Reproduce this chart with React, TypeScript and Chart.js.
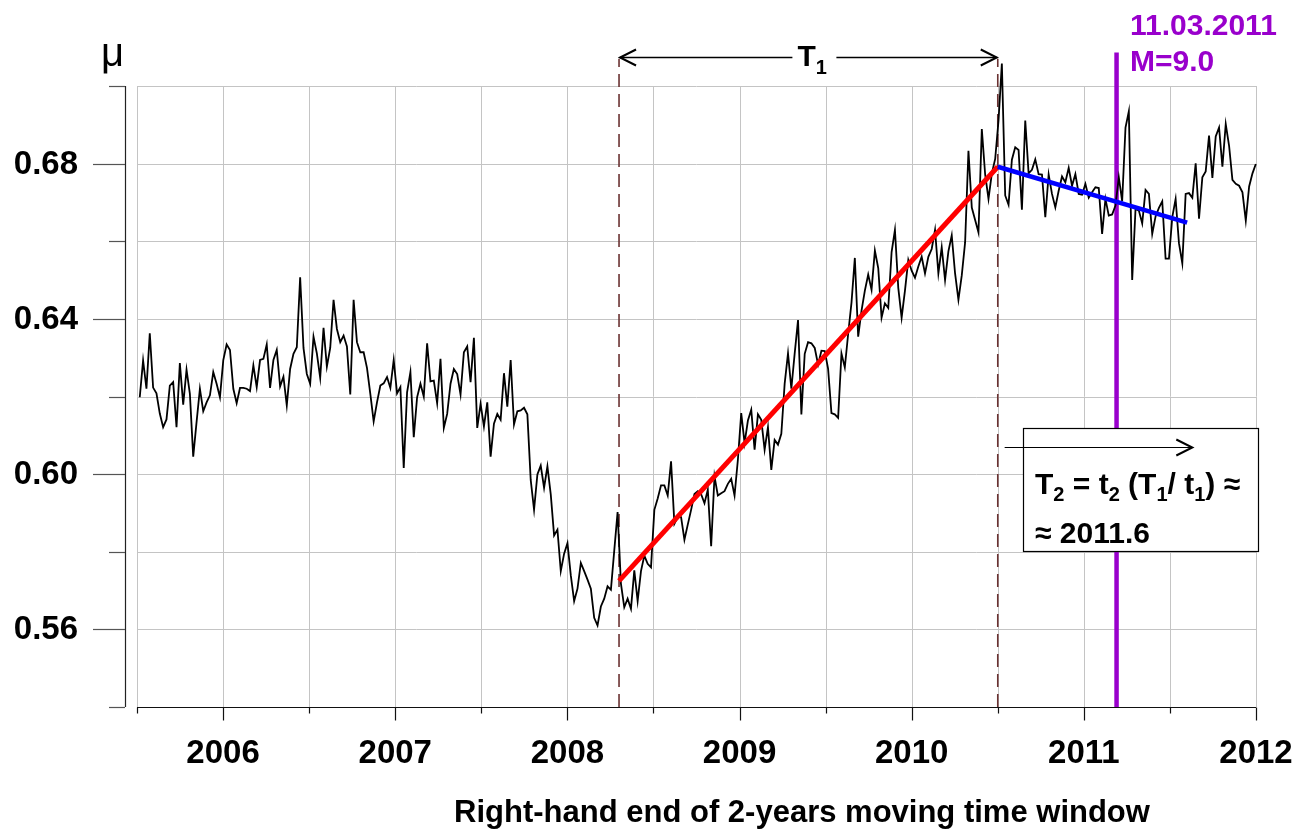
import React, { useEffect, useRef } from "react";
import { Chart, registerables } from "chart.js";

Chart.register(...registerables);

const FONT = '"Liberation Sans", Arial, Helvetica, sans-serif';

// Weekly values of μ (right-hand end of a 2-year moving window)
const muValues: number[] = [
  0.6198, 0.6293, 0.6220, 0.6363, 0.6223, 0.6208, 0.6156, 0.6121, 0.6141, 0.6228,
  0.6237, 0.6121, 0.6286, 0.6179, 0.6269, 0.6207, 0.6045, 0.6134, 0.6220, 0.6162,
  0.6185, 0.6203, 0.6263, 0.6233, 0.6198, 0.6294, 0.6334, 0.6320, 0.6220, 0.6183,
  0.6222, 0.6222, 0.6220, 0.6214, 0.6280, 0.6224, 0.6294, 0.6297, 0.6334, 0.6222,
  0.6294, 0.6320, 0.6226, 0.6251, 0.6177, 0.6271, 0.6310, 0.6327, 0.6507, 0.6325,
  0.6258, 0.6233, 0.6354, 0.6311, 0.6248, 0.6377, 0.6277, 0.6325, 0.6449, 0.6374,
  0.6340, 0.6357, 0.6329, 0.6205, 0.6449, 0.6340, 0.6314, 0.6314, 0.6274, 0.6207,
  0.6136, 0.6185, 0.6228, 0.6234, 0.6250, 0.6222, 0.6294, 0.6208, 0.6224, 0.6016,
  0.6211, 0.6263, 0.6095, 0.6198, 0.6233, 0.6200, 0.6337, 0.6239, 0.6241, 0.6183,
  0.6297, 0.6119, 0.6155, 0.6233, 0.6271, 0.6258, 0.6205, 0.6314, 0.6329, 0.6237,
  0.6351, 0.6119, 0.6181, 0.6123, 0.6185, 0.6045, 0.6130, 0.6155, 0.6140, 0.6260,
  0.6174, 0.6294, 0.6128, 0.6162, 0.6164, 0.6171, 0.6154, 0.5985, 0.5908, 0.5999,
  0.6022, 0.5965, 0.6020, 0.5948, 0.5842, 0.5857, 0.5750, 0.5795, 0.5822, 0.5739,
  0.5673, 0.5705, 0.5771, 0.5750, 0.5728, 0.5705, 0.5630, 0.5610, 0.5659, 0.5679,
  0.5711, 0.5702, 0.5803, 0.5902, 0.5718, 0.5657, 0.5679, 0.5653, 0.5752, 0.5673,
  0.5750, 0.5790, 0.5769, 0.5760, 0.5908, 0.5937, 0.5971, 0.5971, 0.5945, 0.6033,
  0.5872, 0.5889, 0.5889, 0.5831, 0.5870, 0.5908, 0.5949, 0.5956, 0.5948, 0.5925,
  0.5960, 0.5814, 0.5994, 0.5945, 0.5951, 0.5956, 0.5975, 0.5988, 0.5945, 0.6037,
  0.6157, 0.6080, 0.6138, 0.6166, 0.6063, 0.6154, 0.6140, 0.6063, 0.6121, 0.6011,
  0.6088, 0.6076, 0.6104, 0.6233, 0.6311, 0.6220, 0.6311, 0.6397, 0.6154, 0.6310,
  0.6340, 0.6337, 0.6325, 0.6282, 0.6318, 0.6317, 0.6271, 0.6157, 0.6154, 0.6145,
  0.6311, 0.6275, 0.6361, 0.6442, 0.6557, 0.6354, 0.6421, 0.6473, 0.6514, 0.6475,
  0.6576, 0.6531, 0.6403, 0.6440, 0.6428, 0.6572, 0.6629, 0.6480, 0.6403, 0.6473,
  0.6552, 0.6524, 0.6506, 0.6535, 0.6560, 0.6517, 0.6560, 0.6580, 0.6629, 0.6517,
  0.6584, 0.6500, 0.6574, 0.6615, 0.6517, 0.6449, 0.6512, 0.6597, 0.6833, 0.6687,
  0.6655, 0.6623, 0.6889, 0.6772, 0.6709, 0.6775, 0.6812, 0.6911, 0.7058, 0.6718,
  0.6694, 0.6810, 0.6842, 0.6835, 0.6681, 0.6911, 0.6775, 0.6784, 0.6811, 0.6773,
  0.6772, 0.6662, 0.6772, 0.6722, 0.6687, 0.6730, 0.6767, 0.6752, 0.6789, 0.6743,
  0.6773, 0.6722, 0.6720, 0.6748, 0.6712, 0.6726, 0.6739, 0.6737, 0.6619, 0.6709,
  0.6666, 0.6669, 0.6692, 0.6765, 0.6703, 0.6893, 0.6935, 0.6500, 0.6683, 0.6679,
  0.6646, 0.6732, 0.6722, 0.6619, 0.6664, 0.6686, 0.6703, 0.6555, 0.6555, 0.6662,
  0.6709, 0.6595, 0.6543, 0.6722, 0.6724, 0.6712, 0.6801, 0.6658, 0.6765, 0.6780,
  0.6872, 0.6763, 0.6870, 0.6893, 0.6792, 0.6902, 0.6846, 0.6758, 0.6748, 0.6743,
  0.6726, 0.6653, 0.6741, 0.6775, 0.6799,
];
const firstWeekYear = 2005.516;
const weekStepYears = 0.01941;

// Axes
const xMin = 2005.5;
const xMax = 2012;
const yMin = 0.54;
const yMax = 0.7;
const xYearTicks = [2006, 2007, 2008, 2009, 2010, 2011, 2012];
const xHalfTicks = [2005.5, 2006.5, 2007.5, 2008.5, 2009.5, 2010.5, 2011.5];
const yLabelTicks = [0.56, 0.6, 0.64, 0.68];
const yMinorTicks = [0.54, 0.58, 0.62, 0.66, 0.7];
const yGridValues = [0.56, 0.58, 0.6, 0.62, 0.64, 0.66, 0.68, 0.7];
const xGridValues = [2005.5, 2006, 2006.5, 2007, 2007.5, 2008, 2008.5, 2009, 2009.5, 2010, 2010.5, 2011, 2011.5, 2012];

// Trends and markers
const risingTrendX = [2008.3, 2010.5];
const risingTrendY = [0.5725, 0.6792];
const fallingTrendX = [2010.5, 2011.6];
const fallingTrendY = [0.6792, 0.6648];
const t1StartYear = 2008.3;
const t1EndYear = 2010.5;
const markerTopValue = 0.707;
const quakeYear = 2011.19;
const quakeTopValue = 0.7086;
const t1ArrowValue = 0.7076;
const boxLeftYear = 2010.645;
const boxRightYear = 2012.01;
const boxTopValue = 0.612;
const boxBottomValue = 0.5803;
const t2ArrowFrom = 2010.54;
const t2ArrowTo = 2011.63;
const t2ArrowValue = 0.6069;

const PURPLE = "#9900cc";

type Run = { t: string; size: number; dy: number };

function drawRuns(ctx: CanvasRenderingContext2D, runs: Run[], x: number, y: number, color: string) {
  ctx.save();
  ctx.fillStyle = color;
  ctx.textBaseline = "alphabetic";
  ctx.textAlign = "left";
  let cx = x;
  for (const r of runs) {
    ctx.font = `bold ${r.size}px ${FONT}`;
    ctx.fillText(r.t, cx, y + r.dy);
    cx += ctx.measureText(r.t).width;
  }
  ctx.restore();
}

function chevron(ctx: CanvasRenderingContext2D, tipX: number, y: number, dir: number, len: number, half: number) {
  ctx.beginPath();
  ctx.moveTo(tipX - dir * len, y - half);
  ctx.lineTo(tipX, y);
  ctx.lineTo(tipX - dir * len, y + half);
  ctx.stroke();
}

const decorPlugin = {
  id: "decor",
  beforeDatasetsDraw(chart: any) {
    const ctx: CanvasRenderingContext2D = chart.ctx;
    const xs = chart.scales.x;
    const ys = chart.scales.y;
    const top = ys.getPixelForValue(yMax);
    const bottom = ys.getPixelForValue(yMin);
    const left = xs.getPixelForValue(xMin);
    const right = xs.getPixelForValue(xMax);
    ctx.save();
    // grid
    ctx.strokeStyle = "#c4c4c4";
    ctx.lineWidth = 1;
    for (const v of xGridValues) {
      const px = Math.round(xs.getPixelForValue(v)) + 0.5;
      ctx.beginPath();
      ctx.moveTo(px, top);
      ctx.lineTo(px, bottom);
      ctx.stroke();
    }
    for (const v of yGridValues) {
      const py = Math.round(ys.getPixelForValue(v)) + 0.5;
      ctx.beginPath();
      ctx.moveTo(left, py);
      ctx.lineTo(right, py);
      ctx.stroke();
    }
    // y axis (offset to the left)
    const axisX = left - 12;
    ctx.strokeStyle = "#222";
    ctx.lineWidth = 1.2;
    ctx.beginPath();
    ctx.moveTo(axisX + 0.5, top);
    ctx.lineTo(axisX + 0.5, bottom);
    ctx.stroke();
    ctx.strokeStyle = "#555";
    ctx.lineWidth = 1.2;
    for (const v of yLabelTicks) {
      const py = Math.round(ys.getPixelForValue(v)) + 0.5;
      ctx.beginPath();
      ctx.moveTo(axisX - 32, py);
      ctx.lineTo(axisX, py);
      ctx.stroke();
    }
    for (const v of yMinorTicks) {
      const py = Math.round(ys.getPixelForValue(v)) + 0.5;
      ctx.beginPath();
      ctx.moveTo(axisX - 16, py);
      ctx.lineTo(axisX, py);
      ctx.stroke();
    }
    ctx.fillStyle = "#000";
    ctx.font = `bold 33px ${FONT}`;
    ctx.textAlign = "right";
    ctx.textBaseline = "middle";
    for (const v of yLabelTicks) {
      ctx.fillText(v.toFixed(2), 78, ys.getPixelForValue(v) + 1);
    }
    // x axis
    const axisY = Math.round(bottom) + 0.5;
    ctx.strokeStyle = "#111";
    ctx.lineWidth = 1.2;
    ctx.beginPath();
    ctx.moveTo(left, axisY);
    ctx.lineTo(right, axisY);
    ctx.stroke();
    for (const v of xYearTicks) {
      const px = Math.round(xs.getPixelForValue(v)) + 0.5;
      ctx.beginPath();
      ctx.moveTo(px, axisY);
      ctx.lineTo(px, axisY + 13);
      ctx.stroke();
    }
    for (const v of xHalfTicks) {
      const px = Math.round(xs.getPixelForValue(v)) + 0.5;
      ctx.beginPath();
      ctx.moveTo(px, axisY);
      ctx.lineTo(px, axisY + 6);
      ctx.stroke();
    }
    ctx.font = `bold 33px ${FONT}`;
    ctx.textAlign = "center";
    ctx.textBaseline = "middle";
    for (const v of xYearTicks) {
      ctx.fillText(String(v), xs.getPixelForValue(v), 754);
    }
    ctx.font = `bold 31px ${FONT}`;
    ctx.fillText("Right-hand end of 2-years moving time window", 802, 813);
    // mu label
    ctx.font = `40px ${FONT}`;
    ctx.textAlign = "left";
    ctx.textBaseline = "alphabetic";
    ctx.fillText("μ", 101, 66);
    ctx.restore();
  },
  afterDatasetsDraw(chart: any) {
    const ctx: CanvasRenderingContext2D = chart.ctx;
    const xs = chart.scales.x;
    const ys = chart.scales.y;
    ctx.save();
    // T1 arrow
    const ay = Math.round(ys.getPixelForValue(t1ArrowValue)) + 0.5;
    const ax1 = xs.getPixelForValue(t1StartYear) + 1;
    const ax2 = xs.getPixelForValue(t1EndYear) - 1;
    const mid = (ax1 + ax2) / 2 + 6;
    ctx.strokeStyle = "#000";
    ctx.lineWidth = 1.3;
    ctx.beginPath();
    ctx.moveTo(ax1, ay);
    ctx.lineTo(mid - 22, ay);
    ctx.moveTo(mid + 22, ay);
    ctx.lineTo(ax2, ay);
    ctx.stroke();
    ctx.lineWidth = 2;
    chevron(ctx, ax1, ay, -1, 16, 8);
    chevron(ctx, ax2, ay, 1, 16, 8);
    drawRuns(ctx, [{ t: "T", size: 30, dy: 0 }, { t: "1", size: 20, dy: 8 }], mid - 17, 66, "#000");
    // purple label
    ctx.fillStyle = PURPLE;
    ctx.font = `bold 30px ${FONT}`;
    ctx.textAlign = "left";
    ctx.textBaseline = "alphabetic";
    ctx.fillText("11.03.2011", 1130, 35);
    ctx.fillText("M=9.0", 1130, 71);
    // T2 box
    const bx1 = Math.round(xs.getPixelForValue(boxLeftYear)) + 0.5;
    const bx2 = Math.round(xs.getPixelForValue(boxRightYear)) + 0.5;
    const by1 = Math.round(ys.getPixelForValue(boxTopValue)) + 0.5;
    const by2 = Math.round(ys.getPixelForValue(boxBottomValue)) + 0.5;
    ctx.fillStyle = "#fff";
    ctx.fillRect(bx1, by1, bx2 - bx1, by2 - by1);
    ctx.strokeStyle = "#000";
    ctx.lineWidth = 1.2;
    ctx.strokeRect(bx1, by1, bx2 - bx1, by2 - by1);
    const t2y = Math.round(ys.getPixelForValue(t2ArrowValue)) + 0.5;
    const tx1 = xs.getPixelForValue(t2ArrowFrom);
    const tx2 = xs.getPixelForValue(t2ArrowTo);
    ctx.lineWidth = 1.2;
    ctx.beginPath();
    ctx.moveTo(tx1, t2y);
    ctx.lineTo(tx2, t2y);
    ctx.stroke();
    ctx.lineWidth = 2;
    chevron(ctx, tx2, t2y, 1, 16, 8);
    const S = 30;
    const s = 20;
    drawRuns(
      ctx,
      [
        { t: "T", size: S, dy: 0 },
        { t: "2", size: s, dy: 7 },
        { t: " = t", size: S, dy: 0 },
        { t: "2", size: s, dy: 7 },
        { t: " (T", size: S, dy: 0 },
        { t: "1", size: s, dy: 7 },
        { t: "/ t", size: S, dy: 0 },
        { t: "1", size: s, dy: 7 },
        { t: ") ≈", size: S, dy: 0 },
      ],
      1035,
      494,
      "#000"
    );
    drawRuns(ctx, [{ t: "≈ 2011.6", size: S, dy: 0 }], 1035, 543, "#000");
    ctx.restore();
  },
};

export default function App() {
  const ref = useRef<HTMLCanvasElement | null>(null);
  useEffect(() => {
    if (!ref.current) return;
    const seriesPoints = muValues.map((v, i) => ({ x: firstWeekYear + i * weekStepYears, y: v }));
    const chart = new Chart(ref.current, {
      type: "line",
      data: {
        datasets: [
          {
            label: "falling trend",
            data: fallingTrendX.map((x, i) => ({ x, y: fallingTrendY[i] })),
            borderColor: "#0000ff",
            borderWidth: 4.5,
            pointRadius: 0,
            order: 0,
            clip: false as any,
          },
          {
            label: "rising trend",
            data: risingTrendX.map((x, i) => ({ x, y: risingTrendY[i] })),
            borderColor: "#ff0000",
            borderWidth: 5,
            pointRadius: 0,
            order: 1,
            clip: false as any,
          },
          {
            label: "μ",
            data: seriesPoints,
            borderColor: "#000000",
            borderWidth: 1.8,
            pointRadius: 0,
            tension: 0,
            order: 2,
            clip: false as any,
          },
          {
            label: "earthquake",
            data: [
              { x: quakeYear, y: yMin },
              { x: quakeYear, y: quakeTopValue },
            ],
            borderColor: PURPLE,
            borderWidth: 4.5,
            pointRadius: 0,
            order: 3,
            clip: false as any,
          },
          {
            label: "T1 start",
            data: [
              { x: t1StartYear, y: yMin },
              { x: t1StartYear, y: markerTopValue },
            ],
            borderColor: "#6a3232",
            borderWidth: 1.6,
            borderDash: [13, 7],
            pointRadius: 0,
            order: 4,
            clip: false as any,
          },
          {
            label: "T1 end",
            data: [
              { x: t1EndYear, y: yMin },
              { x: t1EndYear, y: markerTopValue },
            ],
            borderColor: "#6a3232",
            borderWidth: 1.6,
            borderDash: [13, 7],
            pointRadius: 0,
            order: 5,
            clip: false as any,
          },
        ],
      },
      options: {
        animation: false,
        responsive: false,
        layout: { padding: { left: 137, right: 55, top: 86, bottom: 127 } },
        plugins: { legend: { display: false }, tooltip: { enabled: false } },
        scales: {
          x: { type: "linear", min: xMin, max: xMax, display: false },
          y: { type: "linear", min: yMin, max: yMax, display: false },
        },
      },
      plugins: [decorPlugin],
    });
    return () => chart.destroy();
  }, []);
  return (
    <div style={{ position: "fixed", left: 0, top: 0, width: 1311, height: 834, background: "#fff" }}>
      <canvas ref={ref} width={1311} height={834} style={{ display: "block" }} />
    </div>
  );
}
